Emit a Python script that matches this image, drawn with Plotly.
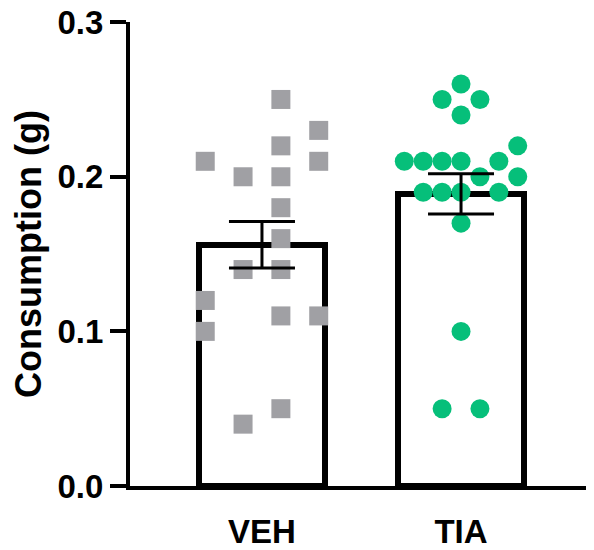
import plotly.graph_objects as go

categories = ["VEH", "TIA"]
bar_means = [0.156, 0.189]
bar_sems = [0.015, 0.013]

veh_values = [0.25, 0.23, 0.22, 0.21, 0.21, 0.20, 0.20, 0.18, 0.16, 0.14, 0.14, 0.12, 0.11, 0.11, 0.10, 0.05, 0.04]
veh_slots = [0.5, 1.5, 0.5, -1.5, 1.5, -0.5, 0.5, 0.5, 0.5, -0.5, 0.5, -1.5, 0.5, 1.5, -1.5, 0.5, -0.5]

tia_values = [0.26, 0.25, 0.25, 0.24, 0.22, 0.21, 0.21, 0.21, 0.21, 0.21, 0.20, 0.20, 0.19, 0.19, 0.19, 0.19, 0.17, 0.10, 0.05, 0.05]
tia_slots = [0, -1, 1, 0, 3, -3, -2, -1, 0, 2, 1, 3, -2, -1, 0, 2, 0, 0, -1, 1]

y_ticks = [0.0, 0.1, 0.2, 0.3]
y_ticktext = ["0.0", "0.1", "0.2", "0.3"]

VEH_SPACING = 0.19
TIA_SPACING = 0.095
FONT = "Liberation Sans, Arial, sans-serif"

fig = go.Figure()

fig.add_trace(go.Bar(
    x=[0, 1], y=bar_means, width=0.63,
    marker=dict(color="white", line=dict(color="black", width=6)),
    showlegend=False, hoverinfo="skip",
))

fig.add_trace(go.Scatter(
    x=[0 + s * VEH_SPACING for s in veh_slots], y=veh_values,
    mode="markers",
    marker=dict(symbol="square", size=19, color="#A0A0A4", line=dict(width=0)),
    showlegend=False, cliponaxis=False,
))

fig.add_trace(go.Scatter(
    x=[1 + s * TIA_SPACING for s in tia_slots], y=tia_values,
    mode="markers",
    marker=dict(symbol="circle", size=19, color="#06BF7A", line=dict(width=0)),
    showlegend=False, cliponaxis=False,
))

fig.add_trace(go.Scatter(
    x=[0, 1], y=bar_means, mode="markers",
    marker=dict(size=1, opacity=0),
    error_y=dict(type="data", array=bar_sems, color="black", thickness=3, width=33),
    showlegend=False, hoverinfo="skip",
))

fig.update_layout(
    width=586, height=542,
    margin=dict(l=122, r=0, t=14, b=64, autoexpand=False),
    paper_bgcolor="white", plot_bgcolor="white",
    bargap=0,
    font=dict(family=FONT, color="black"),
)

fig.update_xaxes(
    range=[-0.663, 1.668], automargin=False,
    tickvals=[0, 1], ticktext=categories,
    tickfont=dict(size=33, family=FONT, weight="bold", color="black"),
    showline=True, linewidth=4, linecolor="black",
    ticks="", showgrid=False, zeroline=False,
    ticklabelstandoff=13,
)

fig.update_yaxes(
    range=[0, 0.3001], automargin=False,
    tickvals=y_ticks, ticktext=y_ticktext,
    tickfont=dict(size=33, family=FONT, weight="bold", color="black"),
    ticklabeloverflow="allow",
    showline=True, linewidth=4, linecolor="black",
    ticks="outside", ticklen=16, tickwidth=4, tickcolor="black",
    showgrid=False, zeroline=False,
    title=dict(text="Consumption (g)", font=dict(size=36, family=FONT, weight="bold", color="black"), standoff=8),
)

fig.write_html("out.html")
